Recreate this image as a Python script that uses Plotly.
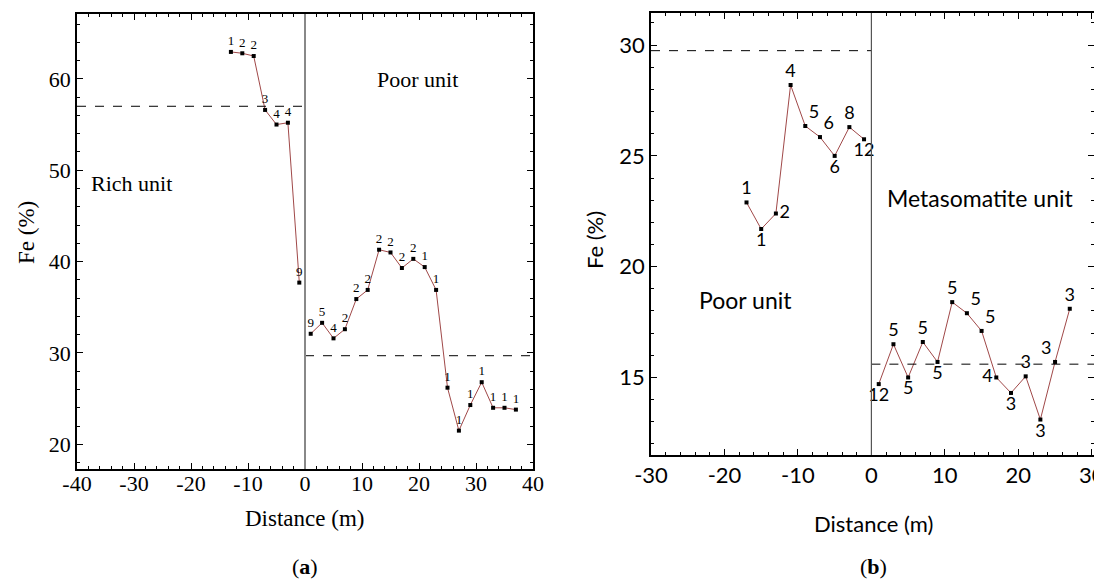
import plotly.graph_objects as go

# ---------------- data: panel (a) ----------------
a_rich_x = [-13, -11, -9, -7, -5, -3, -1]
a_rich_y = [62.95, 62.8, 62.5, 56.6, 55.0, 55.2, 37.7]
a_rich_n = ["1", "2", "2", "3", "4", "4", "9"]

a_poor_x = [1, 3, 5, 7, 9, 11, 13, 15, 17, 19, 21, 23, 25, 27, 29, 31, 33, 35, 37]
a_poor_y = [32.1, 33.3, 31.6, 32.6, 35.9, 36.9, 41.3, 41.0, 39.3, 40.3, 39.4, 36.9,
            26.2, 21.5, 24.3, 26.8, 24.0, 24.0, 23.8]
a_poor_n = ["9", "5", "4", "2", "2", "2", "2", "2", "2", "2", "1", "1",
            "1", "1", "1", "1", "1", "1", "1"]

a_rich_mean = 57.0
a_poor_mean = 29.7

a_xticks = [-40, -30, -20, -10, 0, 10, 20, 30, 40]
a_xtext = ["-40", "-30", "-20", "-10", "0", "10", "20", "30", "40"]
a_yticks = [20, 30, 40, 50, 60]

# ---------------- data: panel (b) ----------------
b_poor_x = [-17, -15, -13, -11, -9, -7, -5, -3, -1]
b_poor_y = [22.9, 21.7, 22.4, 28.2, 26.35, 25.85, 25.0, 26.3, 25.75]
b_poor_n = ["1", "1", "2", "4", "5", "6", "6", "8", "12"]

b_meta_x = [1, 3, 5, 7, 9, 11, 13, 15, 17, 19, 21, 23, 25, 27]
b_meta_y = [14.7, 16.5, 15.0, 16.6, 15.7, 18.4, 17.9, 17.1, 15.0, 14.3, 15.05, 13.1, 15.7, 18.1]
b_meta_n = ["12", "5", "5", "5", "5", "5", "5", "5", "4", "3", "3", "3", "3", "3"]

b_poor_mean = 29.75
b_meta_mean = 15.6

b_xticks = [-30, -20, -10, 0, 10, 20, 30]
b_xtext = ["-30", "-20", "-10", "0", "10", "20", "30"]
b_yticks = [15, 20, 25, 30]

# ---------------- styles ----------------
a_rich_pos = ["top center"] * 7
a_poor_pos = ["top center"] * 19
b_poor_pos = ["top center", "bottom center", "middle right", "top center", "top right",
              "top right", "bottom center", "top center", "bottom center"]
b_meta_pos = ["bottom center", "top center", "bottom center", "top center", "bottom center",
              "top center", "top right", "top right", "middle left", "bottom center",
              "top center", "bottom center", "top left", "top center"]

LINE = "#a04848"
SERIF = "Liberation Serif"
SANS = "Lato"

fig = go.Figure()

def series(x, y, n, pos, xa, ya, font, size):
    fig.add_trace(go.Scatter(
        x=x, y=y, text=n, mode="lines+markers+text", textposition=pos,
        line=dict(color=LINE, width=1),
        marker=dict(symbol="square", size=4, color="black"),
        textfont=dict(family=font, size=size, color="black"),
        xaxis=xa, yaxis=ya, showlegend=False, cliponaxis=False))

series(a_rich_x, a_rich_y, a_rich_n, a_rich_pos, "x", "y", SERIF, 13)
series(a_poor_x, a_poor_y, a_poor_n, a_poor_pos, "x", "y", SERIF, 13)
series(b_poor_x, b_poor_y, b_poor_n, b_poor_pos, "x2", "y2", SANS, 18)
series(b_meta_x, b_meta_y, b_meta_n, b_meta_pos, "x2", "y2", SANS, 18)

shapes = [
    dict(type="line", xref="x", yref="y", x0=-40, x1=0, y0=a_rich_mean, y1=a_rich_mean,
         line=dict(color="black", width=1, dash="dash")),
    dict(type="line", xref="x", yref="y", x0=0, x1=40, y0=a_poor_mean, y1=a_poor_mean,
         line=dict(color="black", width=1, dash="dash")),
    dict(type="line", xref="x", yref="y domain", x0=0, x1=0, y0=0, y1=1,
         line=dict(color="#888888", width=2)),
    dict(type="line", xref="x2", yref="y2", x0=-30, x1=0, y0=b_poor_mean, y1=b_poor_mean,
         line=dict(color="black", width=1, dash="dash")),
    dict(type="line", xref="x2", yref="y2", x0=0, x1=30.3, y0=b_meta_mean, y1=b_meta_mean,
         line=dict(color="black", width=1, dash="dash")),
    dict(type="line", xref="x2", yref="y2 domain", x0=0, x1=0, y0=0, y1=1,
         line=dict(color="#555555", width=1.2)),
]

def note(x, y, text, family, size, ref=("paper", "paper"), angle=0):
    return dict(x=x, y=y, xref=ref[0], yref=ref[1], text=text, showarrow=False,
                xanchor="center", yanchor="middle", textangle=angle,
                font=dict(family=family, size=size, color="black"))

ann = [
    note(-30.4, 48.6, "Rich unit", SERIF, 22, ("x", "y")),
    note(19.8, 59.9, "Poor unit", SERIF, 22, ("x", "y")),
    note(-17.1, 18.5, "Poor unit", SANS, 23, ("x2", "y2")),
    note(14.8, 23.1, "Metasomatite unit", SANS, 23, ("x2", "y2")),
    note(305 / 1094, 1 - 518 / 587, "Distance (m)", SERIF, 23),
    note(27 / 1094, 1 - 233 / 587, "Fe (%)", SERIF, 23, angle=-90),
    note(873 / 1094, 1 - 523 / 587, "Distance (m)", SANS, 22),
    note(594 / 1094, 1 - 240 / 587, "Fe (%)", SANS, 22, angle=-90),
    note(305 / 1094, 1 - 566 / 587, "(<b>a</b>)", SERIF, 22),
    note(873 / 1094, 1 - 566 / 587, "(<b>b</b>)", SERIF, 22),
]

def ax(font, size, rng, vals, text, minor, domain, anchor, standoff=0):
    d = dict(range=rng, tickmode="array", tickvals=vals, domain=domain, anchor=anchor,
             automargin=False, showgrid=False, zeroline=False, showline=True,
             linecolor="black", linewidth=1.5, mirror="ticks", ticks="inside", ticklen=6,
             tickcolor="black", tickwidth=1, ticklabeloverflow="allow",
             minor=dict(ticks="inside", dtick=minor, ticklen=3, tickcolor="black"),
             tickfont=dict(family=font, size=size, color="black"),
             ticklabelstandoff=standoff)
    if text is not None:
        d["ticktext"] = text
    return d

fig.update_layout(
    template="none",
    width=1094, height=587, margin=dict(l=0, r=0, t=0, b=0, autoexpand=False),
    plot_bgcolor="white", paper_bgcolor="white",
    xaxis=ax(SERIF, 22, [-40, 40], a_xticks, a_xtext, 2, [77 / 1094, 533 / 1094], "y", -6),
    yaxis=ax(SERIF, 22, [17.3, 67.1], a_yticks, None, 2, [1 - 469 / 587, 1 - 14 / 587], "x"),
    xaxis2=ax(SANS, 22, [-30, 30.3], b_xticks, b_xtext, 2, [651 / 1094, 1.0], "y2"),
    yaxis2=ax(SANS, 22, [11.5, 31.45], b_yticks, None, 1, [1 - 455 / 587, 1 - 13 / 587], "x2"),
    shapes=shapes, annotations=ann,
)

fig.write_html("out.html")
